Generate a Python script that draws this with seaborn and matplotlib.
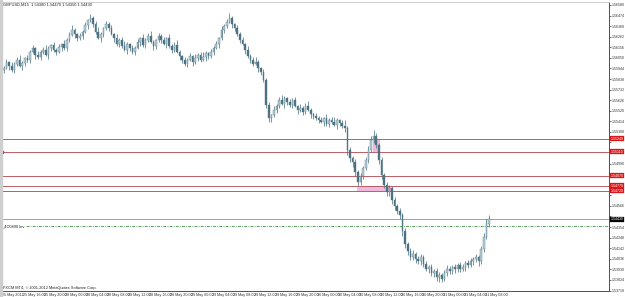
import numpy as np
import pandas as pd
import matplotlib
matplotlib.use("Agg")
import matplotlib.pyplot as plt
import seaborn as sns

# ---------------- data ----------------
chart_symbol = "GBPUSD,M15"
first_open = 1.5593
close = [1.5595,1.5601,1.5597,1.5593,1.5599,1.5603,1.5597,1.5600,1.5605,1.5603,
         1.5611,1.5615,1.5608,1.5606,1.5611,1.5613,1.5608,1.5615,1.5618,1.5613,
         1.5611,1.5616,1.5619,1.5615,1.5623,1.5628,1.5633,1.5629,1.5625,1.5627,
         1.5631,1.5638,1.5643,1.5645,1.5639,1.5631,1.5625,1.5629,1.5635,1.5639,
         1.5635,1.5629,1.5625,1.5619,1.5623,1.5617,1.5613,1.5619,1.5615,1.5611,
         1.5615,1.5621,1.5625,1.5618,1.5623,1.5627,1.5621,1.5617,1.5623,1.5627,
         1.5623,1.5619,1.5625,1.5617,1.5613,1.5618,1.5611,1.5607,1.5603,1.5599,
         1.5603,1.5607,1.5601,1.5605,1.5608,1.5603,1.5606,1.5610,1.5607,1.5611,
         1.5615,1.5619,1.5625,1.5633,1.5637,1.5641,1.5645,1.5639,1.5635,1.5629,
         1.5623,1.5619,1.5613,1.5607,1.5603,1.5599,1.5601,1.5595,1.5591,1.5583,
         1.5558,1.5545,1.5548,1.5553,1.5557,1.5563,1.5559,1.5565,1.5561,1.5558,
         1.5563,1.5557,1.5553,1.5555,1.5551,1.5557,1.5553,1.5549,1.5547,1.5545,
         1.5543,1.5541,1.5545,1.5539,1.5543,1.5541,1.5538,1.5543,1.5540,1.5537,
         1.5535,1.5513,1.5505,1.5501,1.5491,1.5481,1.5487,1.5495,1.5503,1.5513,
         1.5523,1.5527,1.5518,1.5503,1.5488,1.5478,1.5471,1.5475,1.5463,1.5457,
         1.5451,1.5447,1.5431,1.5418,1.5411,1.5405,1.5408,1.5403,1.5401,1.5405,
         1.5398,1.5393,1.5395,1.5389,1.5391,1.5385,1.5387,1.5383,1.5389,1.5393,
         1.5391,1.5395,1.5393,1.5397,1.5393,1.5395,1.5399,1.5397,1.5401,1.5403,
         1.5405,1.5401,1.5413,1.5425,1.5438,1.5443]
high = [1.5597,1.5604,1.5602,1.5601,1.5601,1.5606,1.5608,1.5602,1.5606,1.5608,
        1.5613,1.5618,1.5616,1.5612,1.5613,1.5616,1.5618,1.5617,1.5619,1.5621,
        1.5615,1.5619,1.5620,1.5623,1.5625,1.5631,1.5638,1.5635,1.5630,1.5630,
        1.5633,1.5641,1.5644,1.5649,1.5647,1.5642,1.5636,1.5631,1.5636,1.5642,
        1.5641,1.5638,1.5630,1.5629,1.5625,1.5626,1.5622,1.5621,1.5620,1.5618,
        1.5617,1.5624,1.5626,1.5629,1.5625,1.5630,1.5632,1.5623,1.5624,1.5630,
        1.5629,1.5626,1.5626,1.5629,1.5619,1.5621,1.5623,1.5613,1.5608,1.5606,
        1.5605,1.5610,1.5608,1.5609,1.5610,1.5611,1.5611,1.5612,1.5611,1.5614,
        1.5617,1.5622,1.5626,1.5637,1.5639,1.5644,1.5650,1.5647,1.5640,1.5638,
        1.5631,1.5626,1.5620,1.5617,1.5609,1.5606,1.5606,1.5603,1.5596,1.5594,
        1.5585,1.5561,1.5549,1.5557,1.5559,1.5566,1.5568,1.5567,1.5566,1.5564,
        1.5565,1.5566,1.5558,1.5559,1.5557,1.5560,1.5562,1.5555,1.5550,1.5550,
        1.5547,1.5546,1.5546,1.5549,1.5545,1.5546,1.5546,1.5545,1.5544,1.5543,
        1.5543,1.5537,1.5516,1.5507,1.5504,1.5493,1.5490,1.5497,1.5506,1.5517,
        1.5527,1.5533,1.5530,1.5520,1.5506,1.5490,1.5481,1.5478,1.5477,1.5466,
        1.5459,1.5454,1.5449,1.5434,1.5420,1.5414,1.5412,1.5410,1.5406,1.5408,
        1.5407,1.5401,1.5397,1.5398,1.5393,1.5394,1.5390,1.5389,1.5392,1.5397,
        1.5396,1.5397,1.5398,1.5399,1.5400,1.5398,1.5401,1.5402,1.5404,1.5405,
        1.5408,1.5407,1.5416,1.5429,1.5443,1.5447]
low = [1.5590,1.5594,1.5593,1.5591,1.5590,1.5597,1.5596,1.5593,1.5597,1.5601,
       1.5600,1.5610,1.5604,1.5604,1.5603,1.5609,1.5607,1.5604,1.5612,1.5611,
       1.5608,1.5610,1.5612,1.5613,1.5612,1.5621,1.5627,1.5625,1.5622,1.5623,
       1.5624,1.5630,1.5634,1.5641,1.5636,1.5629,1.5624,1.5621,1.5626,1.5633,
       1.5632,1.5628,1.5621,1.5617,1.5616,1.5615,1.5612,1.5609,1.5612,1.5609,
       1.5608,1.5614,1.5617,1.5616,1.5615,1.5621,1.5620,1.5613,1.5614,1.5621,
       1.5620,1.5618,1.5615,1.5615,1.5610,1.5611,1.5610,1.5603,1.5600,1.5597,
       1.5596,1.5602,1.5597,1.5599,1.5602,1.5601,1.5602,1.5602,1.5604,1.5605,
       1.5608,1.5614,1.5615,1.5623,1.5630,1.5635,1.5640,1.5635,1.5632,1.5627,
       1.5620,1.5618,1.5609,1.5605,1.5600,1.5597,1.5598,1.5591,1.5588,1.5581,
       1.5555,1.5541,1.5541,1.5546,1.5550,1.5555,1.5558,1.5555,1.5558,1.5556,
       1.5555,1.5556,1.5549,1.5551,1.5548,1.5549,1.5552,1.5545,1.5544,1.5543,
       1.5540,1.5540,1.5537,1.5537,1.5536,1.5539,1.5537,1.5534,1.5537,1.5535,
       1.5531,1.5508,1.5501,1.5496,1.5487,1.5477,1.5478,1.5484,1.5493,1.5500,
       1.5511,1.5520,1.5515,1.5499,1.5484,1.5475,1.5467,1.5467,1.5459,1.5452,
       1.5448,1.5443,1.5426,1.5414,1.5407,1.5402,1.5402,1.5399,1.5398,1.5397,
       1.5395,1.5391,1.5389,1.5386,1.5385,1.5381,1.5380,1.5380,1.5381,1.5386,
       1.5388,1.5388,1.5389,1.5390,1.5390,1.5391,1.5391,1.5394,1.5395,1.5397,
       1.5400,1.5396,1.5398,1.5410,1.5423,1.5435]

xtick_bars = [0, 8, 16, 24, 32, 40, 48, 56, 64, 72, 80, 88, 96, 104, 112, 120,
              128, 136, 144, 152, 160, 168, 176, 184]
xtick_labels = ["25 May 2012", "25 May 16:00", "25 May 20:00", "28 May 00:00",
                "28 May 04:00", "28 May 08:00", "28 May 12:00", "28 May 16:00",
                "28 May 20:00", "29 May 00:00", "29 May 04:00", "29 May 08:00",
                "29 May 12:00", "29 May 16:00", "29 May 20:00", "30 May 00:00",
                "30 May 04:00", "30 May 08:00", "30 May 12:00", "30 May 16:00",
                "30 May 20:00", "31 May 00:00", "31 May 04:00", "31 May 08:00"]
ytick_values = [1.56580, 1.56474, 1.56368, 1.56262, 1.56156, 1.56050, 1.55944,
                1.55838, 1.55732, 1.55626, 1.55520, 1.55414, 1.55308, 1.55202,
                1.55096, 1.54990, 1.54884, 1.54778, 1.54672, 1.54566, 1.54460,
                1.54354, 1.54248, 1.54142, 1.54036, 1.53930, 1.53824, 1.53718]
level_lines = [1.5524, 1.5511, 1.5487, 1.5477, 1.5472]
green_level = 1.5436
green_label = "_4C0890 lev"
zones = [(140.7, 143.5, 1.5511, 1.5524), (134.6, 147.7, 1.5472, 1.5477)]
copyright_text = "FXCM MT4, \u00a9 2001-2012 MetaQuotes Software Corp."

# ---------------- frame ----------------
opens = [first_open] + close[:-1]
df = pd.DataFrame({"bar": np.arange(len(close)), "open": opens, "high": high,
                   "low": low, "close": close})
df["up"] = df["close"] >= df["open"]

sns.set_theme(style="white")
plt.rcParams["font.family"] = ["Liberation Sans Narrow", "Liberation Sans", "DejaVu Sans"]

W, H = 625, 297
fig = plt.figure(figsize=(W / 100, H / 100), dpi=100)
fig.patch.set_facecolor("white")
ax_l, ax_r, ax_t, ax_b = 2, 608.5, 2, 290.5
ax = fig.add_axes([ax_l / W, 1 - ax_b / H, (ax_r - ax_l) / W, (ax_b - ax_t) / H])
ax.set_facecolor("white")

px_per_bar = 2.625
x0 = -0.5
ax.set_xlim(x0, x0 + (ax_r - ax_l) / px_per_bar)
ax.set_ylim(1.53725, 1.5661)
px_per_price = (ax_b - ax_t) / (1.5661 - 1.53725)

# zones
for (xa, xb, ya, yb) in zones:
    ax.fill_between([xa, xb], ya, yb, color="#efb2d8", alpha=0.9, lw=0, zorder=1)

# horizontal lines
for lv in level_lines:
    ax.axhline(lv, color="#bb5c66", lw=0.7, zorder=1.5)
ax.axhline(close[-1], color="#a0a0a0", lw=0.7, zorder=1.5)
ax.plot([8.3, ax.get_xlim()[1]], [green_level, green_level], color="#5a9e5e",
        lw=0.7, dashes=(3, 1.3, 0.8, 1.3), zorder=1.5)

# candles
wick_c = "#557a88"
ax.vlines(df["bar"], df["low"], df["high"], color=wick_c, lw=0.55, zorder=3)
body_lo = df[["open", "close"]].min(axis=1)
body_h = (df["close"] - df["open"]).abs().clip(lower=0.00008)
colors = np.where(df["up"], "#b9d1db", "#4a7080")
ax.bar(df["bar"], body_h, bottom=body_lo, width=0.62, color=colors,
       edgecolor=wick_c, linewidth=0.3, zorder=4)

# axes styling
for s in ["left", "top"]:
    ax.spines[s].set_color("#c8c8c8")
    ax.spines[s].set_linewidth(0.6)
for s in ["right", "bottom"]:
    ax.spines[s].set_color("#505050")
    ax.spines[s].set_linewidth(0.7)

# y ticks: hide labels that sit under a price tag (as the terminal does)
tag_prices = level_lines + [close[-1]]
ax.yaxis.tick_right()
ax.set_yticks(ytick_values)
shown = []
for v in ytick_values:
    hidden = any(abs(v - t) * px_per_price < 5.0 for t in tag_prices)
    shown.append("" if hidden else f"{v:.5f}")
ax.set_yticklabels(shown)
ax.tick_params(axis="y", length=1.5, width=0.5, pad=0.6, labelsize=2.6,
               colors="#333333", direction="out")
ax.set_xticks([b - 0.7 for b in xtick_bars])
ax.set_xticklabels(xtick_labels)
for t in ax.get_xticklabels():
    t.set_horizontalalignment("left")
ax.tick_params(axis="x", length=1.5, width=0.5, pad=0.4, labelsize=2.7,
               colors="#333333", direction="out")
ax.grid(False)

# right price labels
def price_tag(y, text, fc):
    ax.text(1.003, y, text, transform=ax.get_yaxis_transform(), fontsize=2.6,
            color="white", va="center", ha="left", zorder=10, clip_on=False,
            bbox=dict(boxstyle="square,pad=0.15", fc=fc, ec=fc, lw=0.2))

for lv in level_lines:
    price_tag(lv, f"{lv:.5f}", "#d81818")
price_tag(close[-1], f"{close[-1]:.5f}", "#000000")

# left marker on level
ax.plot([0], [level_lines[1]], marker="s", ms=1.6, color="#d81818",
        transform=ax.get_yaxis_transform(), clip_on=False, zorder=6)

# texts
ax.text(0.0, green_level, green_label, transform=ax.get_yaxis_transform(),
        fontsize=2.9, color="#222222", va="center", ha="left", zorder=6)
last = df.iloc[-1]
fig.text(3 / W, 1 - 4.5 / H,
         f"{chart_symbol}  {last['open']:.5f} {last['high']:.5f} {last['low']:.5f} {last['close']:.5f}",
         fontsize=2.9, color="#222222", va="center", ha="left")
fig.text(3 / W, 1 - 287.5 / H, copyright_text, fontsize=2.8, color="#222222",
         va="center", ha="left")

# left window border strip
fig.patches.append(plt.Rectangle((0, 0), 2 / W, 1, transform=fig.transFigure,
                                 color="#cfcfcf", zorder=0))

fig.savefig("out.png", dpi=100, facecolor="white")
